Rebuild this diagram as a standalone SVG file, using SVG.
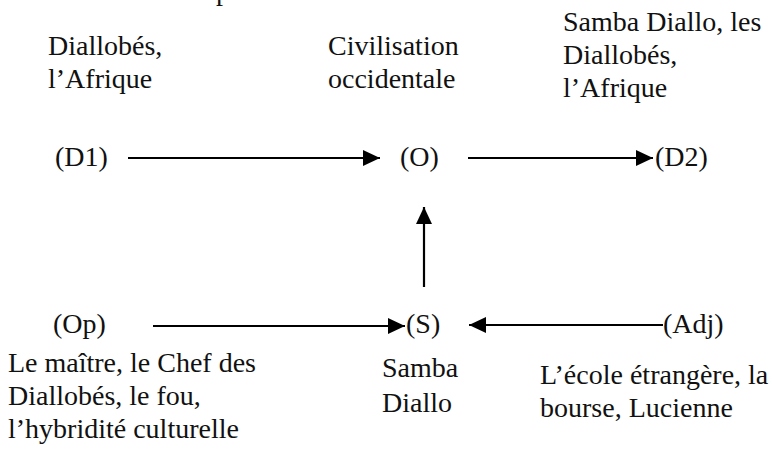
<svg xmlns="http://www.w3.org/2000/svg" width="772" height="457" viewBox="0 0 772 457">
<style>
.t{font-family:"Liberation Serif","DejaVu Serif","Times New Roman",serif;font-size:28px;fill:#111}
.ln{stroke:#000;stroke-width:2.2;fill:none}
</style>
<defs>
<marker id="ah" markerUnits="userSpaceOnUse" markerWidth="18" markerHeight="16" refX="17" refY="8" orient="auto">
<path d="M0,0 L17,8 L0,16 Z" fill="#000"/>
</marker>
</defs>
<rect width="772" height="457" fill="#fff"/>
<g class="t" font-family="Liberation Serif, DejaVu Serif, serif">
<text x="216" y="0">p</text>
<g id="D1">
<text x="48" y="55">Diallobés,</text>
<text x="48" y="88">l’Afrique</text>
<text x="55" y="166">(D1)</text>
</g>
<g id="O">
<text x="328" y="55">Civilisation</text>
<text x="328" y="88">occidentale</text>
<text x="400" y="166">(O)</text>
</g>
<g id="D2">
<text x="563" y="31">Samba Diallo, les</text>
<text x="563" y="64">Diallobés,</text>
<text x="563" y="97">l’Afrique</text>
<text x="655" y="166">(D2)</text>
</g>
<g id="Op">
<text x="53" y="333">(Op)</text>
<text x="8" y="372">Le maître, le Chef des</text>
<text x="8" y="405">Diallobés, le fou,</text>
<text x="8" y="438">l’hybridité culturelle</text>
</g>
<g id="S">
<text x="406" y="333">(S)</text>
<text x="382" y="377">Samba</text>
<text x="382" y="412">Diallo</text>
</g>
<g id="Adj">
<text x="663" y="333">(Adj)</text>
<text x="540" y="384">L’école étrangère, la</text>
<text x="540" y="417">bourse, Lucienne</text>
</g>
</g>
<g id="connectors">
<line class="ln" x1="128" y1="158" x2="380" y2="158" marker-end="url(#ah)"/>
<line class="ln" x1="468" y1="158" x2="653" y2="158" marker-end="url(#ah)"/>
<line class="ln" x1="424" y1="287" x2="424" y2="207" marker-end="url(#ah)"/>
<line class="ln" x1="153" y1="326" x2="405" y2="326" marker-end="url(#ah)"/>
<line class="ln" x1="663" y1="325" x2="469" y2="325" marker-end="url(#ah)"/>
</g>
</svg>
